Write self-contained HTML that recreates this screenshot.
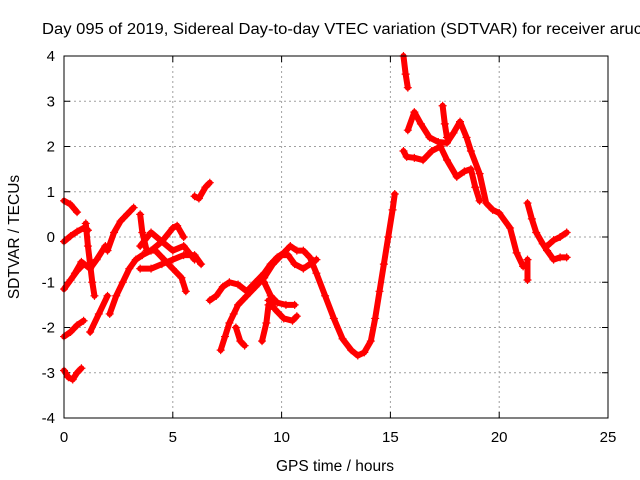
<!DOCTYPE html>
<html><head><meta charset="utf-8"><style>
body{margin:0;background:#fff;overflow:hidden}
svg{display:block;font-family:"Liberation Sans",sans-serif}
</style></head><body>
<svg id="c" width="640" height="480" viewBox="0 0 640 480">
<text x="42" y="34" font-size="15.5" textLength="600" lengthAdjust="spacingAndGlyphs">Day 095 of 2019, Sidereal Day-to-day VTEC variation (SDTVAR) for receiver aruc</text>
<text transform="translate(19,237) rotate(-90)" text-anchor="middle" font-size="15.5">SDTVAR / TECUs</text>
<text x="335" y="471" text-anchor="middle" font-size="15.5">GPS time / hours</text>
<g id="grid"></g><g id="ticks"></g><g id="marks"></g>
<rect x="64" y="56" width="544" height="362" fill="none" stroke="#000" stroke-width="1"/>
</svg>
<script>
const xTicks=[0,5,10,15,20,25];
const yTicks=[-4,-3,-2,-1,0,1,2,3,4];
const tracks=[
[[0,0.8],[0.3,0.72],[0.6,0.55]],
[[0,-0.1],[0.3,0.02],[0.6,0.12],[0.9,0.2],[1.1,0.15]],
[[0,-1.15],[0.3,-0.95],[0.6,-0.75],[0.9,-0.6]],
[[0,-2.2],[0.3,-2.1],[0.6,-1.95],[0.9,-1.85]],
[[0,-2.95],[0.2,-3.1],[0.4,-3.15],[0.6,-3.0],[0.8,-2.9]],
[[1.0,0.3],[1.1,-0.2],[1.2,-0.6],[1.3,-1.0],[1.4,-1.3]],
[[1.2,-2.1],[1.6,-1.7],[2.0,-1.3]],
[[2.0,-0.3],[2.3,0.1],[2.6,0.35],[2.9,0.5],[3.2,0.65]],
[[2.1,-1.7],[2.4,-1.3],[2.7,-1.0],[3.0,-0.7],[3.3,-0.5],[3.6,-0.4],[4,-0.3],[4.5,-0.1],[5,0.2],[5.2,0.25],[5.5,0]],
[[0.5,-0.8],[0.8,-0.55],[1.2,-0.7],[1.5,-0.5],[1.9,-0.2]],
[[3.5,0.5],[3.6,0.1],[3.8,-0.3],[4.2,-0.3],[4.6,-0.5],[5.0,-0.7],[5.4,-0.9],[5.6,-1.2]],
[[3.5,-0.7],[4,-0.7],[4.5,-0.6],[5,-0.5],[5.5,-0.4],[6,-0.4],[6.3,-0.6]],
[[3.5,-0.2],[4,0.1],[4.5,-0.1],[5,-0.3],[5.5,-0.2],[6,-0.5]],
[[6.0,0.9],[6.2,0.85],[6.5,1.1],[6.7,1.2]],
[[6.7,-1.4],[7.0,-1.3],[7.3,-1.1],[7.6,-1.0],[8,-1.05],[8.4,-1.2],[8.8,-1.0],[9.2,-0.8],[9.5,-0.6],[9.8,-0.45],[10.1,-0.35],[10.4,-0.2],[10.7,-0.3],[11,-0.3],[11.3,-0.45],[11.6,-0.8],[12,-1.3],[12.4,-1.8],[12.8,-2.25],[13.2,-2.5],[13.5,-2.62],[13.8,-2.55],[14.1,-2.3],[14.3,-1.8],[14.5,-1.2],[14.7,-0.6],[14.9,0],[15.1,0.6],[15.2,0.95]],
[[7.2,-2.5],[7.4,-2.2],[7.6,-1.9],[7.8,-1.7],[8.0,-1.5],[8.4,-1.3],[8.8,-1.1],[9.2,-0.9],[9.6,-0.6],[10.0,-0.4],[10.3,-0.4],[10.6,-0.6],[11.0,-0.7],[11.3,-0.6],[11.6,-0.5]],
[[9.2,-1.0],[9.5,-1.3],[9.8,-1.45],[10.2,-1.5],[10.6,-1.5]],
[[9.4,-1.4],[9.7,-1.6],[10.1,-1.8],[10.5,-1.85],[10.7,-1.75]],
[[7.9,-2.0],[8.1,-2.3],[8.3,-2.4]],
[[9.1,-2.3],[9.3,-1.9],[9.4,-1.5]],
[[15.6,4],[15.7,3.6],[15.8,3.3]],
[[15.8,2.36],[16.1,2.76],[16.4,2.5],[16.8,2.2],[17.2,2.1],[17.6,2.08],[17.9,2.3],[18.2,2.55],[18.5,2.2],[18.7,1.9],[19.1,1.4],[19.4,0.75],[19.7,0.6],[20.0,0.53],[20.5,0.2],[20.8,-0.35],[21.1,-0.65]],
[[15.6,1.9],[15.75,1.77],[16.1,1.75],[16.5,1.7],[16.9,1.9],[17.3,2.0],[17.6,1.7],[18.05,1.33],[18.4,1.45],[18.7,1.5],[18.9,1.1],[19.1,0.8]],
[[17.4,2.9],[17.5,2.5],[17.6,2.2]],
[[21.3,0.75],[21.5,0.4],[21.7,0.1],[22.0,-0.15],[22.2,-0.3],[22.5,-0.5],[22.8,-0.45],[23.1,-0.45]],
[[22.2,-0.2],[22.5,-0.07],[22.8,0],[23.1,0.1]],
[[21.3,-0.5],[21.3,-0.95]]
];
const X0=64,X1=608,Y0=418,Y1=56;
const sx=t=>X0+(t-0)/25*(X1-X0);
const sy=v=>Y0-(v+4)/8*(Y0-Y1);
const NS="http://www.w3.org/2000/svg";
const grid=document.getElementById('grid'),ticks=document.getElementById('ticks'),marks=document.getElementById('marks');
function mk(tag,attrs,parent){const e=document.createElementNS(NS,tag);for(const k in attrs)e.setAttribute(k,attrs[k]);parent.appendChild(e);return e;}
xTicks.forEach(t=>{const x=sx(t);
 if(t>0&&t<25){const g=mk('line',{x1:x,x2:x,y1:Y1,y2:Y0,stroke:'#a0a0a0','stroke-dasharray':'2,3'},grid);}
 const tk=mk('path',{d:`M${x} ${Y0}v-6M${x} ${Y1}v6`,stroke:'#000'},ticks);
 const l=mk('text',{x:x,y:Y0+24,'text-anchor':'middle','font-size':15},ticks);l.textContent=t;});
yTicks.forEach(v=>{const y=sy(v);
 if(v>-4&&v<4){const g=mk('line',{x1:X0,x2:X1,y1:y,y2:y,stroke:'#a0a0a0','stroke-dasharray':'2,3'},grid);}
 const tk=mk('path',{d:`M${X0} ${y}h6M${X1} ${y}h-6`,stroke:'#000'},ticks);
 const l=mk('text',{x:X0-9,y:y+5,'text-anchor':'end','font-size':15},ticks);l.textContent=v;});
tracks.forEach((tr,i)=>{
 const g=mk('g',{},marks);
 const pl=mk('polyline',{points:tr.map(p=>sx(p[0])+','+sy(p[1])).join(' '),fill:'none',stroke:'#f00','stroke-width':6,'stroke-linejoin':'round','stroke-linecap':'round'},g);
 
 tr.forEach(p=>{const x=sx(p[0]),y=sy(p[1]);const m=mk('path',{d:`M${x-4} ${y}h8M${x} ${y-4}v8`,stroke:'#f00','stroke-width':1.2},g);});
});
</script>
</body></html>
